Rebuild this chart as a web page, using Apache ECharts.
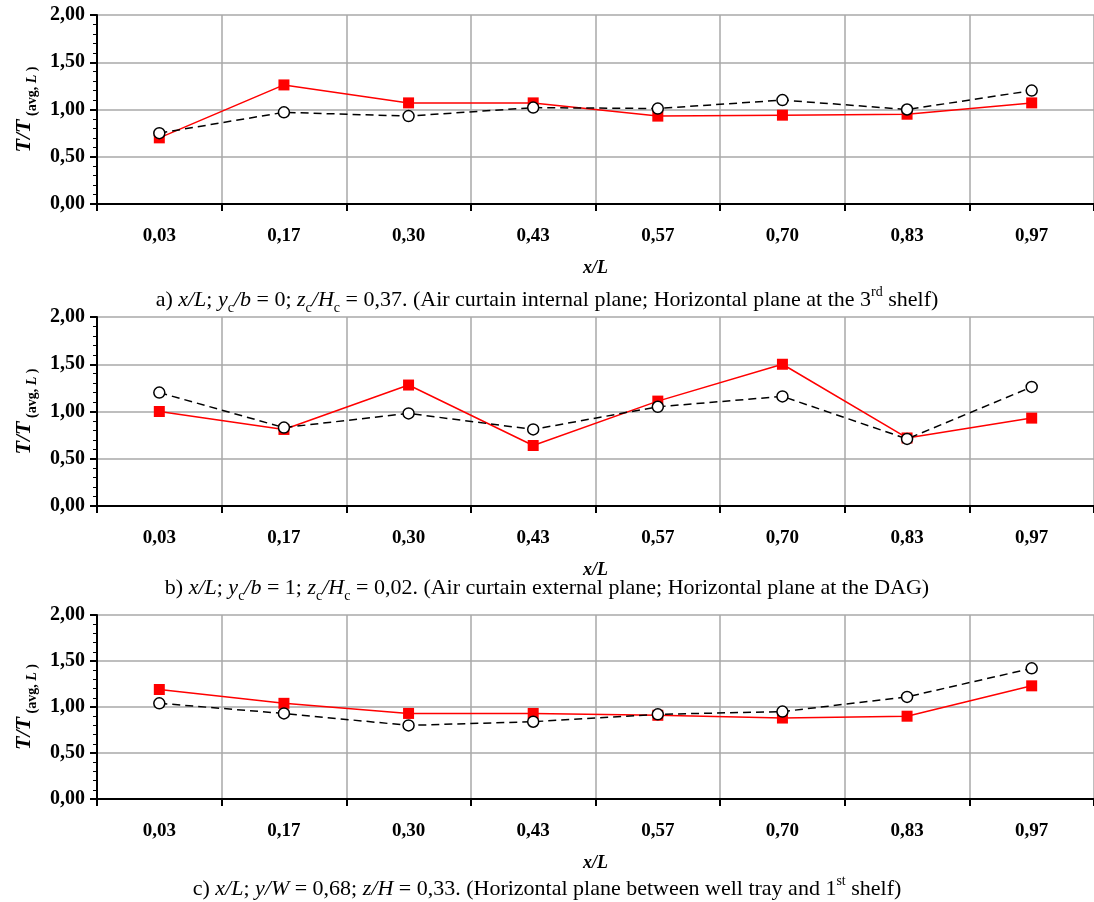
<!DOCTYPE html>
<html>
<head>
<meta charset="utf-8">
<script src="https://cdn.jsdelivr.net/npm/echarts@6/dist/echarts.min.js"></script>
<style>
  html, body { margin: 0; padding: 0; background: #fff; }
  #chart { width: 1094px; height: 902px; }
</style>
</head>
<body>
<div id="chart"></div>
<script>
const categories = ["0,03", "0,17", "0,30", "0,43", "0,57", "0,70", "0,83", "0,97"];

// panel a
const redA = [0.70, 1.26, 1.07, 1.07, 0.93, 0.94, 0.95, 1.07];
const blackA = [0.75, 0.97, 0.93, 1.02, 1.01, 1.10, 1.00, 1.20];
// panel b
const redB = [1.00, 0.81, 1.28, 0.64, 1.11, 1.50, 0.72, 0.93];
const blackB = [1.20, 0.83, 0.98, 0.81, 1.05, 1.16, 0.71, 1.26];
// panel c
const redC = [1.19, 1.04, 0.93, 0.93, 0.91, 0.88, 0.90, 1.23];
const blackC = [1.04, 0.93, 0.80, 0.84, 0.92, 0.95, 1.11, 1.42];

const captions = [
  "{n|a) }{i|x/L}{n|; }{i|y}{sub|c}{i|/b}{n| = 0; }{i|z}{sub|c}{i|/H}{sub|c}{n| = 0,37. (Air curtain internal plane; Horizontal plane at the 3}{sup|rd}{n| shelf)}",
  "{n|b) }{i|x/L}{n|; }{i|y}{sub|c}{i|/b}{n| = 1; }{i|z}{sub|c}{i|/H}{sub|c}{n| = 0,02. (Air curtain external plane; Horizontal plane at the DAG)}",
  "{n|c) }{i|x/L}{n|; }{i|y/W}{n| = 0,68; }{i|z/H}{n| = 0,33. (Horizontal plane between well tray and 1}{sup|st}{n| shelf)}",
];

const FONT = "'Liberation Serif', 'Times New Roman', serif";
const grids = [
  { left: 97, right: 0, top: 15, height: 189 },
  { left: 97, right: 0, top: 317, height: 189 },
  { left: 97, right: 0, top: 615, height: 184 },
];
const captionTops = [284, 572, 873];

const captionRich = {
  n: { fontFamily: FONT, fontSize: 22, fontWeight: "normal", color: "#000" },
  i: { fontFamily: FONT, fontSize: 22, fontWeight: "normal", fontStyle: "italic", color: "#000" },
  sub: { fontFamily: FONT, fontSize: 14, fontWeight: "normal", color: "#000", verticalAlign: "bottom", padding: [0, 0, -4, 0] },
  sup: { fontFamily: FONT, fontSize: 14, fontWeight: "normal", color: "#000", verticalAlign: "top", padding: [-4, 0, 0, 0] },
};

const yNameRich = {
  t: { fontFamily: FONT, fontSize: 22, fontWeight: "bold", fontStyle: "italic", color: "#000" },
  s: { fontFamily: FONT, fontSize: 14, fontWeight: "bold", color: "#000", verticalAlign: "bottom", padding: [0, 0, -4, 0] },
  si: { fontFamily: FONT, fontSize: 14, fontWeight: "bold", fontStyle: "italic", color: "#000", verticalAlign: "bottom", padding: [0, 0, -4, 0] },
};

const fmt = v => v.toFixed(2).replace(".", ",");

const xAxes = grids.map((g, i) => ({
  type: "category",
  gridIndex: i,
  data: categories,
  boundaryGap: true,
  name: "x/L",
  nameLocation: "middle",
  nameGap: 55,
  nameTextStyle: { fontFamily: FONT, fontSize: 18, fontWeight: "bold", fontStyle: "italic", color: "#000" },
  axisLine: { lineStyle: { color: "#000", width: 2 } },
  axisTick: { show: true, length: 7, lineStyle: { color: "#000", width: 2 } },
  axisLabel: { fontFamily: FONT, fontSize: 19, fontWeight: "bold", color: "#000", margin: 23 },
  splitLine: { show: true, lineStyle: { color: "#a8a8a8", width: 1.5 } },
}));

const yAxes = grids.map((g, i) => ({
  type: "value",
  gridIndex: i,
  min: 0,
  max: 2,
  interval: 0.5,
  name: "{t|T/T}{s| (avg, }{si|L}{s| )}",
  nameLocation: "middle",
  nameRotate: 90,
  nameGap: 58,
  nameTextStyle: { rich: yNameRich },
  axisLine: { show: true, lineStyle: { color: "#000", width: 2 } },
  axisTick: { show: true, length: 7, lineStyle: { color: "#000", width: 2 } },
  minorTick: { show: true, splitNumber: 5, length: 4, lineStyle: { color: "#000", width: 1 } },
  axisLabel: { fontFamily: FONT, fontSize: 20, fontWeight: "bold", color: "#000", margin: 12, formatter: fmt },
  splitLine: { show: true, lineStyle: { color: "#a8a8a8", width: 1.5 } },
}));

function redSeries(data, i) {
  return {
    type: "line", xAxisIndex: i, yAxisIndex: i, data: data,
    symbol: "rect", symbolSize: 11,
    itemStyle: { color: "#ff0000" },
    lineStyle: { color: "#ff0000", width: 1.5 },
    z: 2, animation: false,
  };
}
function blackSeries(data, i) {
  return {
    type: "line", xAxisIndex: i, yAxisIndex: i, data: data,
    symbol: "circle", symbolSize: 11,
    itemStyle: { color: "#fff", borderColor: "#000", borderWidth: 1.5 },
    lineStyle: { color: "#000", width: 1.5, type: [8, 5] },
    z: 3, animation: false,
  };
}

const chart = echarts.init(document.getElementById("chart"));
chart.setOption({
  backgroundColor: "#fff",
  animation: false,
  title: captions.map((c, i) => ({
    text: c, left: "center", top: captionTops[i],
    textStyle: { fontWeight: "normal", rich: captionRich },
  })),
  grid: grids,
  xAxis: xAxes,
  yAxis: yAxes,
  series: [
    redSeries(redA, 0), blackSeries(blackA, 0),
    redSeries(redB, 1), blackSeries(blackB, 1),
    redSeries(redC, 2), blackSeries(blackC, 2),
  ],
});
</script>
</body>
</html>
